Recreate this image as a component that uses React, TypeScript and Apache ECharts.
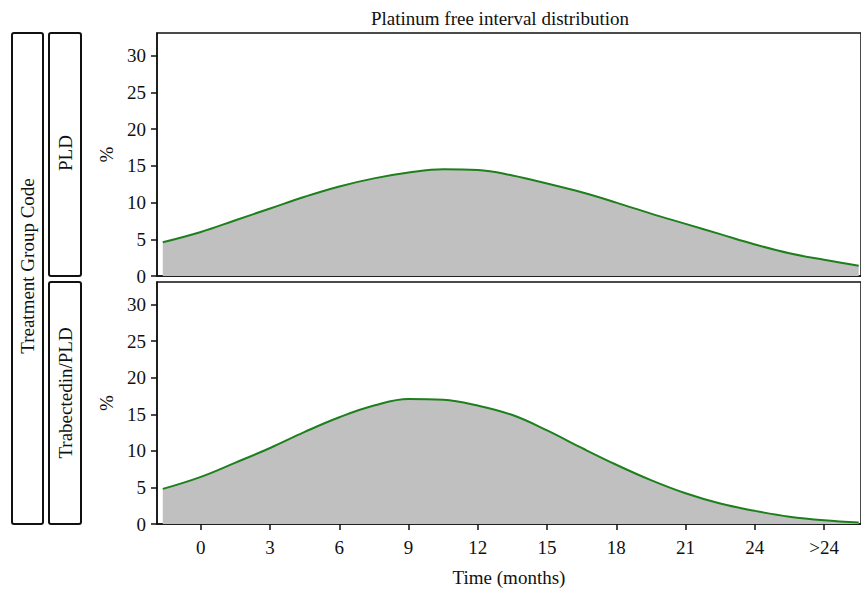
import React, { useEffect, useRef } from "react";
import * as echarts from "echarts";

const months = [-1.65, 0, 1.5, 3, 4.5, 6, 7.5, 9, 10.5, 12, 13.5, 15, 16.5, 18, 19.5, 21, 22.5, 24, 25.5, 27, 28.5];
const pldValues = [4.6, 6.0, 7.6, 9.2, 10.8, 12.2, 13.3, 14.1, 14.55, 14.45, 13.7, 12.6, 11.4, 10.0, 8.5, 7.1, 5.7, 4.3, 3.1, 2.2, 1.4];
const trabValues = [4.8, 6.45, 8.4, 10.4, 12.6, 14.6, 16.2, 17.1, 17.0, 16.2, 14.9, 12.8, 10.4, 8.1, 6.0, 4.2, 2.8, 1.8, 1.0, 0.5, 0.2];
const xTicks = [0, 3, 6, 9, 12, 15, 18, 21, 24, 27];
const xTickLabels = ["0", "3", "6", "9", "12", "15", "18", "21", "24", ">24"];
const yTicks = [0, 5, 10, 15, 20, 25, 30];
const panelNames = ["PLD", "Trabectedin/PLD"];
const title = "Platinum free interval distribution";
const xName = "Time (months)";
const yName = "%";
const groupName = "Treatment Group Code";

const FONT = "'Liberation Serif', 'DejaVu Serif', serif";
const FS = 19;

export default function App() {
  const ref = useRef<HTMLDivElement>(null);
  useEffect(() => {
    document.body.style.margin = "0";
    const chart = echarts.init(ref.current!, null, { renderer: "svg" });
    const textStyle = { fontFamily: FONT, fontSize: FS, color: "#111" };
    const grids = [
      { left: 157, top: 33, width: 706, height: 243 },
      { left: 157, top: 282, width: 706, height: 242 },
    ].map((g) => ({ ...g, show: true, borderColor: "#111", borderWidth: 1.5, backgroundColor: "transparent", containLabel: false }));

    const xAxes = [0, 1].map((i) => ({
      type: "value",
      gridIndex: i,
      min: -1.9,
      max: 28.6,
      splitLine: { show: false },
      axisLine: { show: true, onZero: false, lineStyle: { color: "#111", width: 1.5 } },
      axisTick: i === 1 ? { show: true, length: 6, customValues: xTicks, lineStyle: { color: "#111", width: 1.5 } } : { show: false },
      axisLabel:
        i === 1
          ? {
              show: true,
              customValues: xTicks,
              margin: 14,
              ...textStyle,
              formatter: (v: number) => {
                const k = xTicks.indexOf(v);
                return k >= 0 ? xTickLabels[k] : "";
              },
            }
          : { show: false },
      name: i === 1 ? xName : "",
      nameLocation: "middle",
      nameGap: 44,
      nameTextStyle: textStyle,
    }));

    const yAxes = [0, 1].map((i) => ({
      type: "value",
      gridIndex: i,
      min: 0,
      max: 33.1,
      splitLine: { show: false },
      axisLine: { show: true, onZero: false, lineStyle: { color: "#111", width: 1.5 } },
      axisTick: { show: true, length: 6, customValues: yTicks, lineStyle: { color: "#111", width: 1.5 } },
      axisLabel: { show: true, customValues: yTicks, margin: 11, ...textStyle },
      name: yName,
      nameLocation: "middle",
      nameRotate: 90,
      nameGap: 38,
      nameTextStyle: textStyle,
    }));

    const seriesData = [pldValues, trabValues];
    const series = seriesData.map((vals, i) => ({
      type: "line",
      xAxisIndex: i,
      yAxisIndex: i,
      data: months.map((m, k) => [m, vals[k]]),
      smooth: 0.4,
      showSymbol: false,
      lineStyle: { color: "#1d801d", width: 2 },
      areaStyle: { color: "#c0c0c0", opacity: 1 },
      z: 1,
    }));

    const strip = (x: number, y: number, w: number, h: number, text: string, cy: number) => ({
      type: "group",
      children: [
        { type: "rect", shape: { x, y, width: w, height: h, r: 2 }, style: { fill: "#fff", stroke: "#111", lineWidth: 2 } },
        {
          type: "text",
          x: x + w / 2,
          y: cy,
          rotation: Math.PI / 2,
          style: { text, fontFamily: FONT, fontSize: FS, fill: "#111", align: "center", verticalAlign: "middle" },
        },
      ],
    });

    chart.setOption({
      animation: false,
      grid: grids,
      xAxis: xAxes,
      yAxis: yAxes,
      series,
      graphic: [
        strip(12, 33, 31, 491, groupName, 266),
        strip(49, 33, 32, 243, panelNames[0], 153),
        strip(49, 282, 32, 242, panelNames[1], 393),
        {
          type: "text",
          x: 500,
          y: 18,
          style: { text: title, fontFamily: FONT, fontSize: FS, fill: "#111", align: "center", verticalAlign: "middle" },
        },
      ],
    });
    return () => chart.dispose();
  }, []);
  return <div ref={ref} style={{ width: 861, height: 590 }} />;
}
